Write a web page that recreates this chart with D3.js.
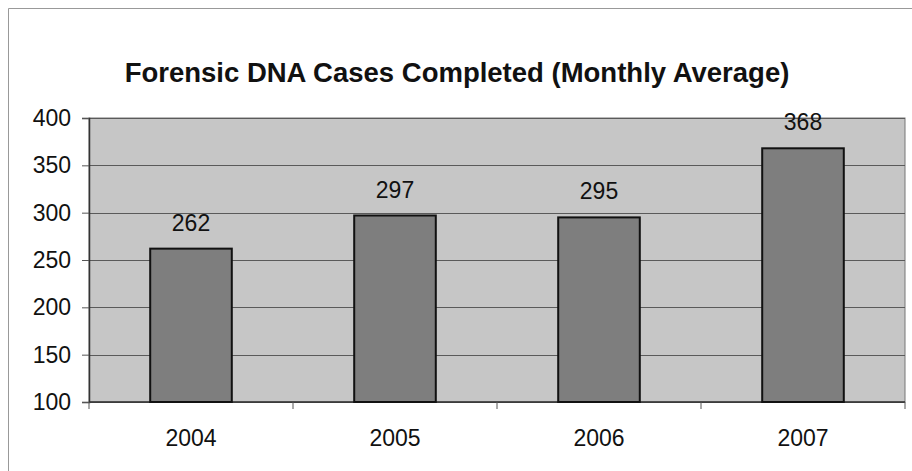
<!DOCTYPE html>
<html>
<head>
<meta charset="utf-8">
<script src="https://cdn.jsdelivr.net/npm/d3@7"></script>
<style>
  body { margin: 0; background: #fff; }
  text { font-family: "Liberation Sans", Arial, sans-serif; }
</style>
</head>
<body>
<div id="chart"></div>
<script>
var years = ["2004", "2005", "2006", "2007"];
var cases = [262, 297, 295, 368];
var yTicks = [100, 150, 200, 250, 300, 350, 400];

var w = 912;
var h = 471;
var plot = { left: 89, right: 905, top: 118, bottom: 402 };

var svg = d3.select("#chart")
    .append("svg")
    .attr("width", w)
    .attr("height", h);

// outer frame (only the left and top edges show in the scan)
svg.append("path")
    .attr("d", "M8.5," + h + "V8.5H" + w)
    .attr("fill", "none")
    .attr("stroke", "#999")
    .attr("stroke-width", 1);

svg.append("text")
    .attr("x", 457)
    .attr("y", 82)
    .attr("text-anchor", "middle")
    .attr("font-size", 27.5)
    .attr("font-weight", "bold")
    .attr("fill", "#111")
    .text("Forensic DNA Cases Completed (Monthly Average)");

var x = d3.scaleBand()
    .domain(years)
    .range([plot.left, plot.right])
    .paddingInner(0.6)
    .paddingOuter(0.3);

var y = d3.scaleLinear()
    .domain([100, 400])
    .range([plot.bottom, plot.top]);

// plot area
svg.append("rect")
    .attr("x", plot.left).attr("y", plot.top)
    .attr("width", plot.right - plot.left)
    .attr("height", plot.bottom - plot.top)
    .attr("fill", "#c6c6c6")
    .attr("stroke", "#777")
    .attr("stroke-width", 1);

// gridlines
svg.selectAll("line.grid")
    .data(yTicks)
    .enter()
    .append("line")
    .attr("class", "grid")
    .attr("x1", plot.left).attr("x2", plot.right)
    .attr("y1", function(d) { return Math.round(y(d)) + 0.5; })
    .attr("y2", function(d) { return Math.round(y(d)) + 0.5; })
    .attr("stroke", "#5a5a5a")
    .attr("stroke-width", 1);

// axes
var yAxis = d3.axisLeft(y).tickValues(yTicks).tickSize(7).tickPadding(11);
var gy = svg.append("g")
    .attr("transform", "translate(" + plot.left + ",0)")
    .call(yAxis);
gy.select(".domain").attr("stroke", "#333").attr("stroke-width", 1.5);
gy.selectAll(".tick line").attr("stroke", "#555");
gy.selectAll("text")
    .attr("font-size", 23)
    .attr("fill", "#111")
    .style("font-family", "'Liberation Sans', Arial, sans-serif");

var xTickPos = d3.range(years.length + 1).map(function(i) {
    return plot.left + i * (plot.right - plot.left) / years.length;
});
svg.append("line")
    .attr("x1", plot.left).attr("x2", plot.right)
    .attr("y1", plot.bottom).attr("y2", plot.bottom)
    .attr("stroke", "#333").attr("stroke-width", 1.5);
svg.selectAll("line.xtick")
    .data(xTickPos)
    .enter()
    .append("line")
    .attr("class", "xtick")
    .attr("x1", function(d) { return d; })
    .attr("x2", function(d) { return d; })
    .attr("y1", plot.bottom).attr("y2", plot.bottom + 7)
    .attr("stroke", "#555");

svg.selectAll("text.xlab")
    .data(years)
    .enter()
    .append("text")
    .attr("class", "xlab")
    .attr("x", function(d) { return x(d) + x.bandwidth() / 2; })
    .attr("y", 446)
    .attr("text-anchor", "middle")
    .attr("font-size", 23)
    .attr("fill", "#111")
    .text(function(d) { return d; });

// bars
svg.selectAll("rect.bar")
    .data(cases)
    .enter()
    .append("rect")
    .attr("class", "bar")
    .attr("x", function(d, i) { return x(years[i]); })
    .attr("y", function(d) { return y(d); })
    .attr("width", x.bandwidth())
    .attr("height", function(d) { return plot.bottom - y(d); })
    .attr("fill", "#7e7e7e")
    .attr("stroke", "#111")
    .attr("stroke-width", 2);

svg.selectAll("text.val")
    .data(cases)
    .enter()
    .append("text")
    .attr("class", "val")
    .attr("x", function(d, i) { return x(years[i]) + x.bandwidth() / 2; })
    .attr("y", function(d) { return y(d) - 18; })
    .attr("text-anchor", "middle")
    .attr("font-size", 23)
    .attr("fill", "#111")
    .text(function(d) { return d; });
</script>
</body>
</html>
